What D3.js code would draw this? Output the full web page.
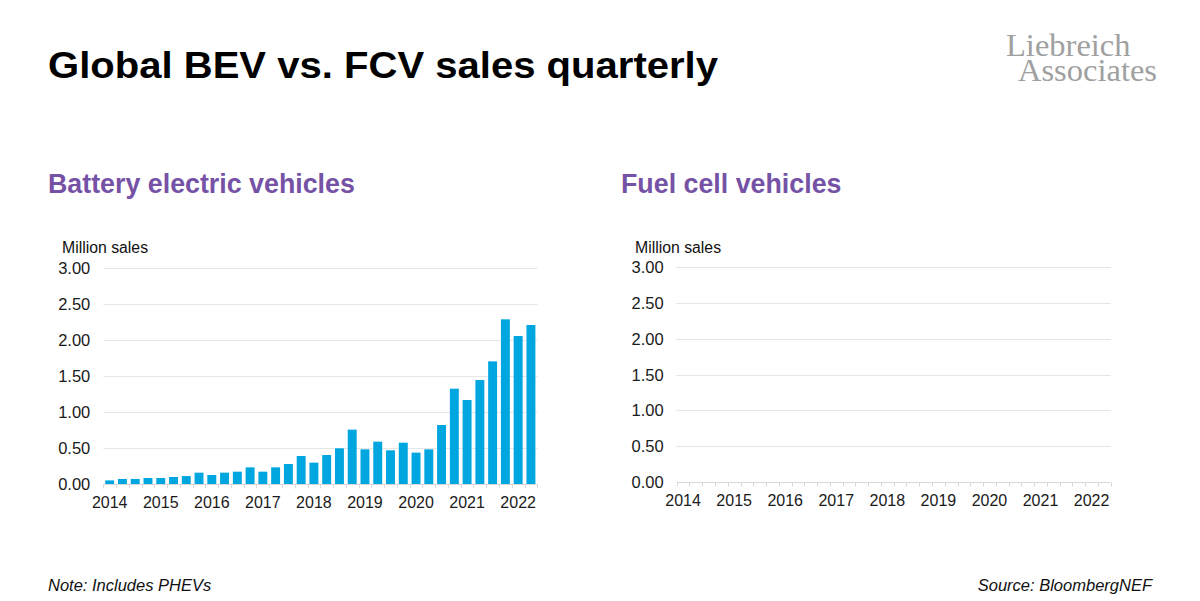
<!DOCTYPE html>
<html>
<head>
<meta charset="utf-8">
<script src="https://cdn.jsdelivr.net/npm/d3@7"></script>
<style>
  html, body { margin: 0; padding: 0; background: #fff; }
  svg { display: block; }
</style>
</head>
<body>
<svg id="chart" width="1200" height="601"></svg>
<script>
// ---- Data ----
const years = ["2014","2015","2016","2017","2018","2019","2020","2021","2022"];
const quarters = ["2014Q1","2014Q2","2014Q3","2014Q4","2015Q1","2015Q2","2015Q3","2015Q4",
  "2016Q1","2016Q2","2016Q3","2016Q4","2017Q1","2017Q2","2017Q3","2017Q4",
  "2018Q1","2018Q2","2018Q3","2018Q4","2019Q1","2019Q2","2019Q3","2019Q4",
  "2020Q1","2020Q2","2020Q3","2020Q4","2021Q1","2021Q2","2021Q3","2021Q4",
  "2022Q1","2022Q2"];
const bevSales = [0.05,0.07,0.07,0.083,0.083,0.097,0.11,0.157,
  0.125,0.157,0.171,0.231,0.171,0.231,0.277,0.388,
  0.296,0.402,0.495,0.754,0.481,0.587,0.467,0.573,
  0.435,0.481,0.818,1.322,1.165,1.442,1.701,2.284,
  2.053,2.205];
const fcvSales = []; // no visible bars at this scale
const yTicks = [0,0.5,1,1.5,2,2.5,3];

const svg = d3.select("#chart");
const sans = "'Liberation Sans', Arial, sans-serif";

// Title
svg.append("text").attr("x",48).attr("y",78)
  .attr("font-family",sans).attr("font-weight","bold").attr("font-size",37)
  .attr("textLength",670).attr("lengthAdjust","spacingAndGlyphs")
  .attr("fill","#000").text("Global BEV vs. FCV sales quarterly");

// Logo
const serif = "'Liberation Serif', 'DejaVu Serif', serif";
svg.append("text").attr("x",1006).attr("y",56).attr("font-family",serif)
  .attr("font-size",32.5).attr("fill","#a0a0a0").text("Liebreich");
svg.append("text").attr("x",1018).attr("y",81).attr("font-family",serif)
  .attr("font-size",32.5).attr("fill","#a0a0a0").text("Associates");

// Footer
svg.append("text").attr("x",48).attr("y",591).attr("font-family",sans)
  .attr("font-style","italic").attr("font-size",16.5).attr("fill","#111").text("Note: Includes PHEVs");
svg.append("text").attr("x",1152).attr("y",591).attr("font-family",sans).attr("text-anchor","end")
  .attr("font-style","italic").attr("font-size",16.5).attr("fill","#111").text("Source: BloombergNEF");

function panel(opts){
  const g = svg.append("g");
  g.append("text").attr("x",opts.titleX).attr("y",193).attr("font-family",sans)
    .attr("font-weight","bold").attr("font-size",26.8).attr("fill","#7652a6").text(opts.title);
  g.append("text").attr("x",opts.unitX).attr("y",253).attr("font-family",sans)
    .attr("font-size",15.8).attr("fill","#111").text("Million sales");

  const x = d3.scaleBand().domain(quarters).range([opts.x0, opts.x1]).paddingInner(0.3).paddingOuter(0.15);
  const y = d3.scaleLinear().domain([0,3]).range([opts.yBottom, opts.yTop]);

  // gridlines
  g.append("g").selectAll("line").data(yTicks.filter(d=>d>0)).join("line")
    .attr("x1",opts.x0).attr("x2",opts.x1)
    .attr("y1",d=>Math.round(y(d))+0.5).attr("y2",d=>Math.round(y(d))+0.5)
    .attr("stroke","#e6e6e6").attr("stroke-width",1);

  // y tick labels
  g.append("g").selectAll("text").data(yTicks).join("text")
    .attr("x",opts.x0-13).attr("y",d=>y(d)+6).attr("text-anchor","end")
    .attr("font-family",sans).attr("font-size",16.5).attr("fill","#1a1a1a")
    .text(d=>d3.format(".2f")(d));

  // bars
  g.append("g").selectAll("rect").data(opts.data.map((v,i)=>({q:quarters[i],v}))).join("rect")
    .attr("x",d=>x(d.q)).attr("width",x.bandwidth())
    .attr("y",d=>y(d.v)).attr("height",d=>y(0)-y(d.v))
    .attr("fill","#00a6e0");

  // x axis baseline + quarter ticks
  const base = Math.round(y(0))+0.5;
  g.append("line").attr("x1",opts.x0).attr("x2",opts.x1).attr("y1",base).attr("y2",base)
    .attr("stroke","#d9d9d9");
  const bounds = d3.range(quarters.length+1).map(i=>opts.x0 + i*(opts.x1-opts.x0)/quarters.length);
  g.append("g").selectAll("line").data(bounds).join("line")
    .attr("x1",d=>Math.round(d)+0.5).attr("x2",d=>Math.round(d)+0.5)
    .attr("y1",base).attr("y2",base+4).attr("stroke","#d9d9d9");

  // year labels
  g.append("g").selectAll("text").data(years).join("text")
    .attr("x",d=>x(d+"Q1")+x.bandwidth()/2).attr("y",opts.yBottom+23.5)
    .attr("text-anchor","middle").attr("font-family",sans).attr("font-size",16)
    .attr("fill","#1a1a1a").text(d=>d);
}

panel({title:"Battery electric vehicles", titleX:48, unitX:62, x0:103.3, x1:537.3, yTop:267.7, yBottom:484, data:bevSales});
panel({title:"Fuel cell vehicles", titleX:621, unitX:635, x0:676.7, x1:1110.7, yTop:266.7, yBottom:482.3, data:fcvSales});
</script>
</body>
</html>
